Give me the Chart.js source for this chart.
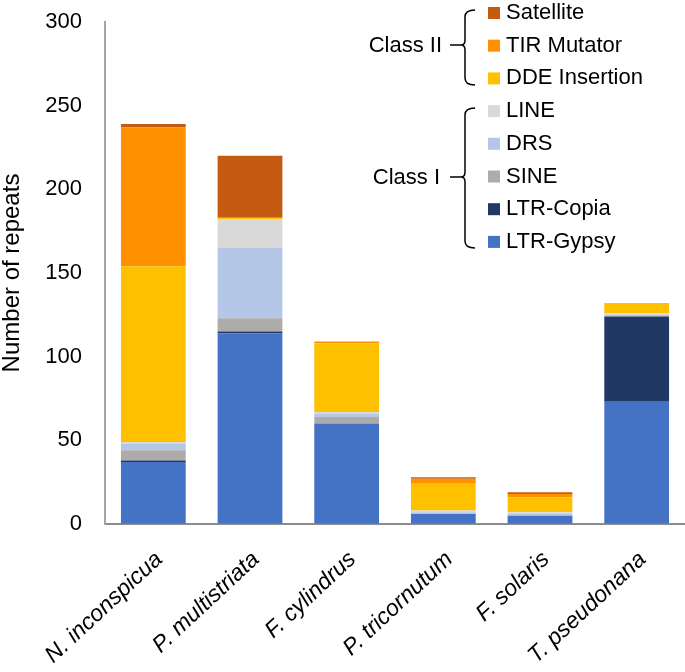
<!DOCTYPE html>
<html>
<head>
<meta charset="utf-8">
<script src="https://cdn.jsdelivr.net/npm/chart.js@4"></script>
<style>
  html, body { margin: 0; padding: 0; background: #fff; }
</style>
</head>
<body>
<canvas id="repeats-chart" width="685" height="672"></canvas>
<script>
// data
const species = ["N. inconspicua", "P. multistriata", "F. cylindrus", "P. tricornutum", "F. solaris", "T. pseudonana"];
const ltrGypsy = [37, 114, 60, 6, 5, 73];
const ltrCopia = [1, 1, 0, 0, 0, 51];
const sine = [6, 8, 4, 0, 0, 0];
const drs = [4, 42, 2, 1, 1, 1];
const lineRep = [1, 17, 1, 1, 1, 1];
const ddeInsertion = [105, 1, 41, 16, 9, 6];
const tirMutator = [83, 0, 1, 3, 2, 0];
const satellite = [2, 37, 0, 1, 1, 0];
const yTicks = [0, 50, 100, 150, 200, 250, 300];

const FONT = '"Liberation Sans", Arial, sans-serif';

function brace(ctx, x, y1, y2, ym) {
  ctx.beginPath();
  ctx.moveTo(x + 10, y1);
  ctx.quadraticCurveTo(x, y1, x, y1 + 7);
  ctx.lineTo(x, ym - 5);
  ctx.quadraticCurveTo(x, ym, x - 4, ym);
  ctx.quadraticCurveTo(x, ym, x, ym + 5);
  ctx.lineTo(x, y2 - 7);
  ctx.quadraticCurveTo(x, y2, x + 10, y2);
  ctx.stroke();
  ctx.beginPath();
  ctx.moveTo(x - 15, ym);
  ctx.lineTo(x - 4, ym);
  ctx.stroke();
}

// legend with the Class I / Class II brackets
const classLegend = {
  id: 'classLegend',
  afterDraw(chart) {
    const ctx = chart.ctx;
    const sets = chart.data.datasets.slice().reverse();
    ctx.save();
    ctx.font = '22px ' + FONT;
    ctx.textBaseline = 'middle';
    sets.forEach(function(ds, i) {
      const y = 13 + i * 32.7;
      ctx.fillStyle = ds.backgroundColor;
      ctx.fillRect(488, y - 6, 12, 12);
      ctx.fillStyle = '#000';
      ctx.fillText(ds.label, 506, y);
    });
    ctx.strokeStyle = '#000';
    ctx.lineWidth = 1.5;
    brace(ctx, 465, 10, 85, 45);
    brace(ctx, 465, 108, 248, 177);
    ctx.textAlign = 'right';
    ctx.fillText('Class II', 442, 46);
    ctx.fillText('Class I', 440, 178);
    ctx.restore();
  }
};

new Chart(document.getElementById("repeats-chart"), {
  type: 'bar',
  data: {
    labels: species,
    datasets: [
      { label: "LTR-Gypsy", backgroundColor: "#4472C4", data: ltrGypsy },
      { label: "LTR-Copia", backgroundColor: "#203864", data: ltrCopia },
      { label: "SINE", backgroundColor: "#AEABAB", data: sine },
      { label: "DRS", backgroundColor: "#B4C7E7", data: drs },
      { label: "LINE", backgroundColor: "#D9D9D9", data: lineRep },
      { label: "DDE Insertion", backgroundColor: "#FFC000", data: ddeInsertion },
      { label: "TIR Mutator", backgroundColor: "#FF9100", data: tirMutator },
      { label: "Satellite", backgroundColor: "#C55A11", data: satellite }
    ]
  },
  options: {
    responsive: false,
    animation: false,
    barPercentage: 0.67,
    categoryPercentage: 1,
    layout: { padding: { top: 22, right: 0, bottom: 0, left: 0 } },
    plugins: {
      legend: { display: false },
      tooltip: { enabled: false }
    },
    scales: {
      x: {
        stacked: true,
        grid: { drawOnChartArea: false, drawTicks: false },
        border: { color: '#8c8c8c', width: 2 },
        ticks: {
          autoSkip: false,
          maxRotation: 43,
          minRotation: 43,
          padding: 22,
          labelOffset: 6,
          color: '#000',
          font: { family: FONT, size: 23, style: 'italic' }
        },
        afterFit: function(s) { s.height = 148; s.paddingTop = 0; }
      },
      y: {
        stacked: true,
        min: 0,
        max: 300,
        grid: { drawOnChartArea: false, drawTicks: false },
        border: { color: '#a6a6a6', width: 2 },
        afterBuildTicks: function(s) { s.ticks = yTicks.map(function(v) { return { value: v }; }); },
        ticks: {
          padding: 23,
          color: '#000',
          font: { family: FONT, size: 22 }
        },
        title: {
          display: true,
          text: 'Number of repeats',
          color: '#000',
          padding: 0,
          font: { family: FONT, size: 24, lineHeight: 1 }
        },
        afterFit: function(s) { s.width = 105; s.paddingTop = 0; s.paddingBottom = 0; }
      }
    }
  },
  plugins: [classLegend]
});
</script>
</body>
</html>
